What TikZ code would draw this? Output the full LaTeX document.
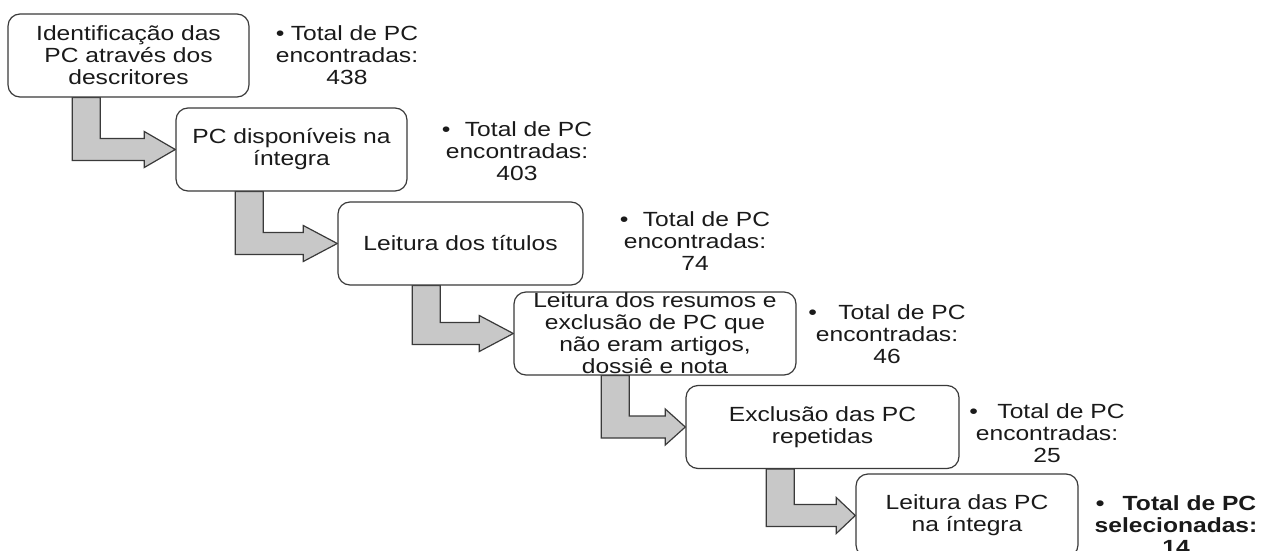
\documentclass[tikz,border=0pt]{standalone}
\usepackage{fontspec}
\setmainfont{Liberation Sans}
\usetikzlibrary{calc,backgrounds}
\definecolor{boxline}{HTML}{3A3A3A}
\definecolor{arrowgray}{HTML}{C8C8C8}
\definecolor{txt}{HTML}{1A1A1A}
\newcommand\blockarrow[4]{%
  \draw[blk] let \p1=(#1.south west), \p2=(#2.west) in
    (\x1+#3,\y1) -- (\x1+#3+28,\y1) -- (\x1+#3+28,\y2+11) -- (\x2-#4,\y2+11)
    -- (\x2-#4,\y2+18) -- (\x2,\y2) -- (\x2-#4,\y2-18) -- (\x2-#4,\y2-11)
    -- (\x1+#3,\y2-11) -- cycle;}
\begin{document}
\begin{tikzpicture}[x=1pt,y=-1pt,
  box/.style={draw=boxline, line width=1.2pt, fill=white, rounded corners=12pt,
    align=center, inner sep=0pt, minimum height=83pt, xscale=1.2,
    font=\fontsize{20.5}{22}\selectfont, text=txt},
  lab/.style={align=center, inner sep=0pt, xscale=1.2,
    font=\fontsize{20.5}{22}\selectfont, text=txt},
  blk/.style={draw=boxline, line width=1.2pt, fill=arrowgray, line join=miter}]
\useasboundingbox (0,0) rectangle (1266,551);

\node[box, minimum width=200.8pt] (b1) at (128.5,55.5) {Identificação das\\PC através dos\\descritores};
\node[box, minimum width=192.5pt] (b2) at (291.5,149.5) {PC disponíveis na\\íntegra};
\node[box, minimum width=204.2pt] (b3) at (460.5,243.5) {Leitura dos títulos};
\node[box, minimum width=235pt] (b4) at (655,333.5) {Leitura dos resumos e\\exclusão de PC que\\não eram artigos,\\dossiê e nota};
\node[box, minimum width=227.5pt] (b5) at (822.5,427) {Exclusão das PC\\repetidas};
\node[box, minimum width=185pt] (b6) at (967,515.5) {Leitura das PC\\na íntegra};

\node[lab] (l1) at (347,55) {•\hspace{5.3pt}Total de PC\\encontradas:\\438};
\node[lab] (l2) at (517,151) {•\hspace{12pt}Total de PC\\encontradas:\\403};
\node[lab] (l3) at (695,241) {•\hspace{12pt}Total de PC\\encontradas:\\74};
\node[lab] (l4) at (887,334) {•\hspace{17.8pt}Total de PC\\encontradas:\\46};
\node[lab] (l5) at (1047,433) {•\hspace{16.2pt}Total de PC\\encontradas:\\25};
\node[lab, font=\fontsize{20.5}{22}\selectfont\bfseries] (l6) at (1176,525) {•\hspace{15.3pt}Total de PC\\selecionadas:\\14};

\begin{scope}[on background layer]
\blockarrow{b1}{b2}{65}{31}
\blockarrow{b2}{b3}{60}{34}
\blockarrow{b3}{b4}{75}{34}
\blockarrow{b4}{b5}{88}{20}
\blockarrow{b5}{b6}{81}{19}
\end{scope}
\end{tikzpicture}
\end{document}
